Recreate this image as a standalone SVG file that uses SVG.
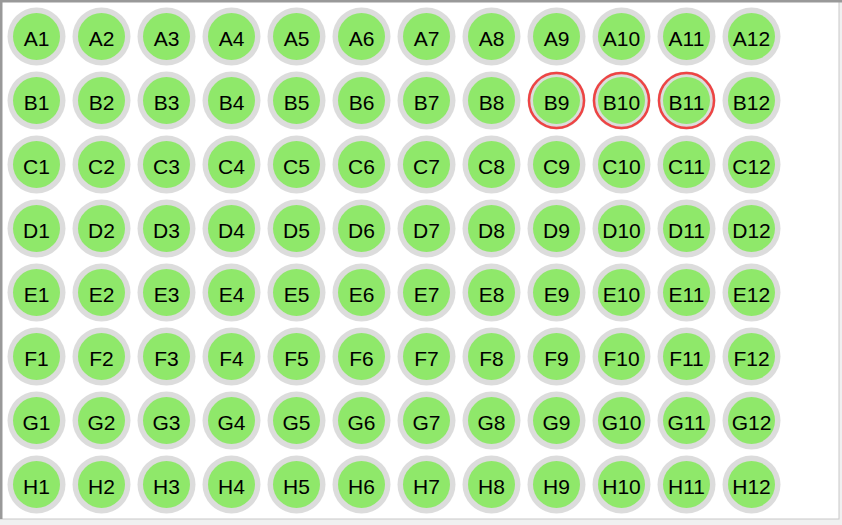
<svg xmlns="http://www.w3.org/2000/svg" width="842" height="525" viewBox="0 0 842 525">
<style>
.o{fill:#dcdcdc}
.i{fill:#8fe86a}
.t{font-family:"Liberation Sans",Arial,sans-serif;font-size:21px;fill:#000;text-anchor:middle}
.s{fill:none;stroke:#ee4444;stroke-width:2.5}
</style>
<rect x="0" y="0" width="842" height="525" fill="#f0f0f0"/>
<rect x="0" y="0" width="839" height="519" fill="#ffffff" stroke="#c8c8c8" stroke-width="1"/>
<rect x="0" y="0" width="842" height="2.5" fill="#999"/>
<rect x="0" y="0" width="2.5" height="519" fill="#999"/>
<g id="A1"><circle class="o" cx="36.5" cy="36.5" r="29"/><circle class="i" cx="36.5" cy="36.5" r="23.5"/><text class="t" x="36.5" y="45.5">A1</text></g>
<g id="A2"><circle class="o" cx="101.5" cy="36.5" r="29"/><circle class="i" cx="101.5" cy="36.5" r="23.5"/><text class="t" x="101.5" y="45.5">A2</text></g>
<g id="A3"><circle class="o" cx="166.5" cy="36.5" r="29"/><circle class="i" cx="166.5" cy="36.5" r="23.5"/><text class="t" x="166.5" y="45.5">A3</text></g>
<g id="A4"><circle class="o" cx="231.5" cy="36.5" r="29"/><circle class="i" cx="231.5" cy="36.5" r="23.5"/><text class="t" x="231.5" y="45.5">A4</text></g>
<g id="A5"><circle class="o" cx="296.5" cy="36.5" r="29"/><circle class="i" cx="296.5" cy="36.5" r="23.5"/><text class="t" x="296.5" y="45.5">A5</text></g>
<g id="A6"><circle class="o" cx="361.5" cy="36.5" r="29"/><circle class="i" cx="361.5" cy="36.5" r="23.5"/><text class="t" x="361.5" y="45.5">A6</text></g>
<g id="A7"><circle class="o" cx="426.5" cy="36.5" r="29"/><circle class="i" cx="426.5" cy="36.5" r="23.5"/><text class="t" x="426.5" y="45.5">A7</text></g>
<g id="A8"><circle class="o" cx="491.5" cy="36.5" r="29"/><circle class="i" cx="491.5" cy="36.5" r="23.5"/><text class="t" x="491.5" y="45.5">A8</text></g>
<g id="A9"><circle class="o" cx="556.5" cy="36.5" r="29"/><circle class="i" cx="556.5" cy="36.5" r="23.5"/><text class="t" x="556.5" y="45.5">A9</text></g>
<g id="A10"><circle class="o" cx="621.5" cy="36.5" r="29"/><circle class="i" cx="621.5" cy="36.5" r="23.5"/><text class="t" x="621.5" y="45.5">A10</text></g>
<g id="A11"><circle class="o" cx="686.5" cy="36.5" r="29"/><circle class="i" cx="686.5" cy="36.5" r="23.5"/><text class="t" x="686.5" y="45.5">A11</text></g>
<g id="A12"><circle class="o" cx="751.5" cy="36.5" r="29"/><circle class="i" cx="751.5" cy="36.5" r="23.5"/><text class="t" x="751.5" y="45.5">A12</text></g>
<g id="B1"><circle class="o" cx="36.5" cy="100.5" r="29"/><circle class="i" cx="36.5" cy="100.5" r="23.5"/><text class="t" x="36.5" y="109.5">B1</text></g>
<g id="B2"><circle class="o" cx="101.5" cy="100.5" r="29"/><circle class="i" cx="101.5" cy="100.5" r="23.5"/><text class="t" x="101.5" y="109.5">B2</text></g>
<g id="B3"><circle class="o" cx="166.5" cy="100.5" r="29"/><circle class="i" cx="166.5" cy="100.5" r="23.5"/><text class="t" x="166.5" y="109.5">B3</text></g>
<g id="B4"><circle class="o" cx="231.5" cy="100.5" r="29"/><circle class="i" cx="231.5" cy="100.5" r="23.5"/><text class="t" x="231.5" y="109.5">B4</text></g>
<g id="B5"><circle class="o" cx="296.5" cy="100.5" r="29"/><circle class="i" cx="296.5" cy="100.5" r="23.5"/><text class="t" x="296.5" y="109.5">B5</text></g>
<g id="B6"><circle class="o" cx="361.5" cy="100.5" r="29"/><circle class="i" cx="361.5" cy="100.5" r="23.5"/><text class="t" x="361.5" y="109.5">B6</text></g>
<g id="B7"><circle class="o" cx="426.5" cy="100.5" r="29"/><circle class="i" cx="426.5" cy="100.5" r="23.5"/><text class="t" x="426.5" y="109.5">B7</text></g>
<g id="B8"><circle class="o" cx="491.5" cy="100.5" r="29"/><circle class="i" cx="491.5" cy="100.5" r="23.5"/><text class="t" x="491.5" y="109.5">B8</text></g>
<g id="B9"><circle class="o" cx="556.5" cy="100.5" r="29"/><circle class="i" cx="556.5" cy="100.5" r="23.5"/><circle class="s" cx="556.5" cy="100.5" r="27.5"/><text class="t" x="556.5" y="109.5">B9</text></g>
<g id="B10"><circle class="o" cx="621.5" cy="100.5" r="29"/><circle class="i" cx="621.5" cy="100.5" r="23.5"/><circle class="s" cx="621.5" cy="100.5" r="27.5"/><text class="t" x="621.5" y="109.5">B10</text></g>
<g id="B11"><circle class="o" cx="686.5" cy="100.5" r="29"/><circle class="i" cx="686.5" cy="100.5" r="23.5"/><circle class="s" cx="686.5" cy="100.5" r="27.5"/><text class="t" x="686.5" y="109.5">B11</text></g>
<g id="B12"><circle class="o" cx="751.5" cy="100.5" r="29"/><circle class="i" cx="751.5" cy="100.5" r="23.5"/><text class="t" x="751.5" y="109.5">B12</text></g>
<g id="C1"><circle class="o" cx="36.5" cy="164.5" r="29"/><circle class="i" cx="36.5" cy="164.5" r="23.5"/><text class="t" x="36.5" y="173.5">C1</text></g>
<g id="C2"><circle class="o" cx="101.5" cy="164.5" r="29"/><circle class="i" cx="101.5" cy="164.5" r="23.5"/><text class="t" x="101.5" y="173.5">C2</text></g>
<g id="C3"><circle class="o" cx="166.5" cy="164.5" r="29"/><circle class="i" cx="166.5" cy="164.5" r="23.5"/><text class="t" x="166.5" y="173.5">C3</text></g>
<g id="C4"><circle class="o" cx="231.5" cy="164.5" r="29"/><circle class="i" cx="231.5" cy="164.5" r="23.5"/><text class="t" x="231.5" y="173.5">C4</text></g>
<g id="C5"><circle class="o" cx="296.5" cy="164.5" r="29"/><circle class="i" cx="296.5" cy="164.5" r="23.5"/><text class="t" x="296.5" y="173.5">C5</text></g>
<g id="C6"><circle class="o" cx="361.5" cy="164.5" r="29"/><circle class="i" cx="361.5" cy="164.5" r="23.5"/><text class="t" x="361.5" y="173.5">C6</text></g>
<g id="C7"><circle class="o" cx="426.5" cy="164.5" r="29"/><circle class="i" cx="426.5" cy="164.5" r="23.5"/><text class="t" x="426.5" y="173.5">C7</text></g>
<g id="C8"><circle class="o" cx="491.5" cy="164.5" r="29"/><circle class="i" cx="491.5" cy="164.5" r="23.5"/><text class="t" x="491.5" y="173.5">C8</text></g>
<g id="C9"><circle class="o" cx="556.5" cy="164.5" r="29"/><circle class="i" cx="556.5" cy="164.5" r="23.5"/><text class="t" x="556.5" y="173.5">C9</text></g>
<g id="C10"><circle class="o" cx="621.5" cy="164.5" r="29"/><circle class="i" cx="621.5" cy="164.5" r="23.5"/><text class="t" x="621.5" y="173.5">C10</text></g>
<g id="C11"><circle class="o" cx="686.5" cy="164.5" r="29"/><circle class="i" cx="686.5" cy="164.5" r="23.5"/><text class="t" x="686.5" y="173.5">C11</text></g>
<g id="C12"><circle class="o" cx="751.5" cy="164.5" r="29"/><circle class="i" cx="751.5" cy="164.5" r="23.5"/><text class="t" x="751.5" y="173.5">C12</text></g>
<g id="D1"><circle class="o" cx="36.5" cy="228.5" r="29"/><circle class="i" cx="36.5" cy="228.5" r="23.5"/><text class="t" x="36.5" y="237.5">D1</text></g>
<g id="D2"><circle class="o" cx="101.5" cy="228.5" r="29"/><circle class="i" cx="101.5" cy="228.5" r="23.5"/><text class="t" x="101.5" y="237.5">D2</text></g>
<g id="D3"><circle class="o" cx="166.5" cy="228.5" r="29"/><circle class="i" cx="166.5" cy="228.5" r="23.5"/><text class="t" x="166.5" y="237.5">D3</text></g>
<g id="D4"><circle class="o" cx="231.5" cy="228.5" r="29"/><circle class="i" cx="231.5" cy="228.5" r="23.5"/><text class="t" x="231.5" y="237.5">D4</text></g>
<g id="D5"><circle class="o" cx="296.5" cy="228.5" r="29"/><circle class="i" cx="296.5" cy="228.5" r="23.5"/><text class="t" x="296.5" y="237.5">D5</text></g>
<g id="D6"><circle class="o" cx="361.5" cy="228.5" r="29"/><circle class="i" cx="361.5" cy="228.5" r="23.5"/><text class="t" x="361.5" y="237.5">D6</text></g>
<g id="D7"><circle class="o" cx="426.5" cy="228.5" r="29"/><circle class="i" cx="426.5" cy="228.5" r="23.5"/><text class="t" x="426.5" y="237.5">D7</text></g>
<g id="D8"><circle class="o" cx="491.5" cy="228.5" r="29"/><circle class="i" cx="491.5" cy="228.5" r="23.5"/><text class="t" x="491.5" y="237.5">D8</text></g>
<g id="D9"><circle class="o" cx="556.5" cy="228.5" r="29"/><circle class="i" cx="556.5" cy="228.5" r="23.5"/><text class="t" x="556.5" y="237.5">D9</text></g>
<g id="D10"><circle class="o" cx="621.5" cy="228.5" r="29"/><circle class="i" cx="621.5" cy="228.5" r="23.5"/><text class="t" x="621.5" y="237.5">D10</text></g>
<g id="D11"><circle class="o" cx="686.5" cy="228.5" r="29"/><circle class="i" cx="686.5" cy="228.5" r="23.5"/><text class="t" x="686.5" y="237.5">D11</text></g>
<g id="D12"><circle class="o" cx="751.5" cy="228.5" r="29"/><circle class="i" cx="751.5" cy="228.5" r="23.5"/><text class="t" x="751.5" y="237.5">D12</text></g>
<g id="E1"><circle class="o" cx="36.5" cy="292.5" r="29"/><circle class="i" cx="36.5" cy="292.5" r="23.5"/><text class="t" x="36.5" y="301.5">E1</text></g>
<g id="E2"><circle class="o" cx="101.5" cy="292.5" r="29"/><circle class="i" cx="101.5" cy="292.5" r="23.5"/><text class="t" x="101.5" y="301.5">E2</text></g>
<g id="E3"><circle class="o" cx="166.5" cy="292.5" r="29"/><circle class="i" cx="166.5" cy="292.5" r="23.5"/><text class="t" x="166.5" y="301.5">E3</text></g>
<g id="E4"><circle class="o" cx="231.5" cy="292.5" r="29"/><circle class="i" cx="231.5" cy="292.5" r="23.5"/><text class="t" x="231.5" y="301.5">E4</text></g>
<g id="E5"><circle class="o" cx="296.5" cy="292.5" r="29"/><circle class="i" cx="296.5" cy="292.5" r="23.5"/><text class="t" x="296.5" y="301.5">E5</text></g>
<g id="E6"><circle class="o" cx="361.5" cy="292.5" r="29"/><circle class="i" cx="361.5" cy="292.5" r="23.5"/><text class="t" x="361.5" y="301.5">E6</text></g>
<g id="E7"><circle class="o" cx="426.5" cy="292.5" r="29"/><circle class="i" cx="426.5" cy="292.5" r="23.5"/><text class="t" x="426.5" y="301.5">E7</text></g>
<g id="E8"><circle class="o" cx="491.5" cy="292.5" r="29"/><circle class="i" cx="491.5" cy="292.5" r="23.5"/><text class="t" x="491.5" y="301.5">E8</text></g>
<g id="E9"><circle class="o" cx="556.5" cy="292.5" r="29"/><circle class="i" cx="556.5" cy="292.5" r="23.5"/><text class="t" x="556.5" y="301.5">E9</text></g>
<g id="E10"><circle class="o" cx="621.5" cy="292.5" r="29"/><circle class="i" cx="621.5" cy="292.5" r="23.5"/><text class="t" x="621.5" y="301.5">E10</text></g>
<g id="E11"><circle class="o" cx="686.5" cy="292.5" r="29"/><circle class="i" cx="686.5" cy="292.5" r="23.5"/><text class="t" x="686.5" y="301.5">E11</text></g>
<g id="E12"><circle class="o" cx="751.5" cy="292.5" r="29"/><circle class="i" cx="751.5" cy="292.5" r="23.5"/><text class="t" x="751.5" y="301.5">E12</text></g>
<g id="F1"><circle class="o" cx="36.5" cy="356.5" r="29"/><circle class="i" cx="36.5" cy="356.5" r="23.5"/><text class="t" x="36.5" y="365.5">F1</text></g>
<g id="F2"><circle class="o" cx="101.5" cy="356.5" r="29"/><circle class="i" cx="101.5" cy="356.5" r="23.5"/><text class="t" x="101.5" y="365.5">F2</text></g>
<g id="F3"><circle class="o" cx="166.5" cy="356.5" r="29"/><circle class="i" cx="166.5" cy="356.5" r="23.5"/><text class="t" x="166.5" y="365.5">F3</text></g>
<g id="F4"><circle class="o" cx="231.5" cy="356.5" r="29"/><circle class="i" cx="231.5" cy="356.5" r="23.5"/><text class="t" x="231.5" y="365.5">F4</text></g>
<g id="F5"><circle class="o" cx="296.5" cy="356.5" r="29"/><circle class="i" cx="296.5" cy="356.5" r="23.5"/><text class="t" x="296.5" y="365.5">F5</text></g>
<g id="F6"><circle class="o" cx="361.5" cy="356.5" r="29"/><circle class="i" cx="361.5" cy="356.5" r="23.5"/><text class="t" x="361.5" y="365.5">F6</text></g>
<g id="F7"><circle class="o" cx="426.5" cy="356.5" r="29"/><circle class="i" cx="426.5" cy="356.5" r="23.5"/><text class="t" x="426.5" y="365.5">F7</text></g>
<g id="F8"><circle class="o" cx="491.5" cy="356.5" r="29"/><circle class="i" cx="491.5" cy="356.5" r="23.5"/><text class="t" x="491.5" y="365.5">F8</text></g>
<g id="F9"><circle class="o" cx="556.5" cy="356.5" r="29"/><circle class="i" cx="556.5" cy="356.5" r="23.5"/><text class="t" x="556.5" y="365.5">F9</text></g>
<g id="F10"><circle class="o" cx="621.5" cy="356.5" r="29"/><circle class="i" cx="621.5" cy="356.5" r="23.5"/><text class="t" x="621.5" y="365.5">F10</text></g>
<g id="F11"><circle class="o" cx="686.5" cy="356.5" r="29"/><circle class="i" cx="686.5" cy="356.5" r="23.5"/><text class="t" x="686.5" y="365.5">F11</text></g>
<g id="F12"><circle class="o" cx="751.5" cy="356.5" r="29"/><circle class="i" cx="751.5" cy="356.5" r="23.5"/><text class="t" x="751.5" y="365.5">F12</text></g>
<g id="G1"><circle class="o" cx="36.5" cy="420.5" r="29"/><circle class="i" cx="36.5" cy="420.5" r="23.5"/><text class="t" x="36.5" y="429.5">G1</text></g>
<g id="G2"><circle class="o" cx="101.5" cy="420.5" r="29"/><circle class="i" cx="101.5" cy="420.5" r="23.5"/><text class="t" x="101.5" y="429.5">G2</text></g>
<g id="G3"><circle class="o" cx="166.5" cy="420.5" r="29"/><circle class="i" cx="166.5" cy="420.5" r="23.5"/><text class="t" x="166.5" y="429.5">G3</text></g>
<g id="G4"><circle class="o" cx="231.5" cy="420.5" r="29"/><circle class="i" cx="231.5" cy="420.5" r="23.5"/><text class="t" x="231.5" y="429.5">G4</text></g>
<g id="G5"><circle class="o" cx="296.5" cy="420.5" r="29"/><circle class="i" cx="296.5" cy="420.5" r="23.5"/><text class="t" x="296.5" y="429.5">G5</text></g>
<g id="G6"><circle class="o" cx="361.5" cy="420.5" r="29"/><circle class="i" cx="361.5" cy="420.5" r="23.5"/><text class="t" x="361.5" y="429.5">G6</text></g>
<g id="G7"><circle class="o" cx="426.5" cy="420.5" r="29"/><circle class="i" cx="426.5" cy="420.5" r="23.5"/><text class="t" x="426.5" y="429.5">G7</text></g>
<g id="G8"><circle class="o" cx="491.5" cy="420.5" r="29"/><circle class="i" cx="491.5" cy="420.5" r="23.5"/><text class="t" x="491.5" y="429.5">G8</text></g>
<g id="G9"><circle class="o" cx="556.5" cy="420.5" r="29"/><circle class="i" cx="556.5" cy="420.5" r="23.5"/><text class="t" x="556.5" y="429.5">G9</text></g>
<g id="G10"><circle class="o" cx="621.5" cy="420.5" r="29"/><circle class="i" cx="621.5" cy="420.5" r="23.5"/><text class="t" x="621.5" y="429.5">G10</text></g>
<g id="G11"><circle class="o" cx="686.5" cy="420.5" r="29"/><circle class="i" cx="686.5" cy="420.5" r="23.5"/><text class="t" x="686.5" y="429.5">G11</text></g>
<g id="G12"><circle class="o" cx="751.5" cy="420.5" r="29"/><circle class="i" cx="751.5" cy="420.5" r="23.5"/><text class="t" x="751.5" y="429.5">G12</text></g>
<g id="H1"><circle class="o" cx="36.5" cy="484.5" r="29"/><circle class="i" cx="36.5" cy="484.5" r="23.5"/><text class="t" x="36.5" y="493.5">H1</text></g>
<g id="H2"><circle class="o" cx="101.5" cy="484.5" r="29"/><circle class="i" cx="101.5" cy="484.5" r="23.5"/><text class="t" x="101.5" y="493.5">H2</text></g>
<g id="H3"><circle class="o" cx="166.5" cy="484.5" r="29"/><circle class="i" cx="166.5" cy="484.5" r="23.5"/><text class="t" x="166.5" y="493.5">H3</text></g>
<g id="H4"><circle class="o" cx="231.5" cy="484.5" r="29"/><circle class="i" cx="231.5" cy="484.5" r="23.5"/><text class="t" x="231.5" y="493.5">H4</text></g>
<g id="H5"><circle class="o" cx="296.5" cy="484.5" r="29"/><circle class="i" cx="296.5" cy="484.5" r="23.5"/><text class="t" x="296.5" y="493.5">H5</text></g>
<g id="H6"><circle class="o" cx="361.5" cy="484.5" r="29"/><circle class="i" cx="361.5" cy="484.5" r="23.5"/><text class="t" x="361.5" y="493.5">H6</text></g>
<g id="H7"><circle class="o" cx="426.5" cy="484.5" r="29"/><circle class="i" cx="426.5" cy="484.5" r="23.5"/><text class="t" x="426.5" y="493.5">H7</text></g>
<g id="H8"><circle class="o" cx="491.5" cy="484.5" r="29"/><circle class="i" cx="491.5" cy="484.5" r="23.5"/><text class="t" x="491.5" y="493.5">H8</text></g>
<g id="H9"><circle class="o" cx="556.5" cy="484.5" r="29"/><circle class="i" cx="556.5" cy="484.5" r="23.5"/><text class="t" x="556.5" y="493.5">H9</text></g>
<g id="H10"><circle class="o" cx="621.5" cy="484.5" r="29"/><circle class="i" cx="621.5" cy="484.5" r="23.5"/><text class="t" x="621.5" y="493.5">H10</text></g>
<g id="H11"><circle class="o" cx="686.5" cy="484.5" r="29"/><circle class="i" cx="686.5" cy="484.5" r="23.5"/><text class="t" x="686.5" y="493.5">H11</text></g>
<g id="H12"><circle class="o" cx="751.5" cy="484.5" r="29"/><circle class="i" cx="751.5" cy="484.5" r="23.5"/><text class="t" x="751.5" y="493.5">H12</text></g>
</svg>
